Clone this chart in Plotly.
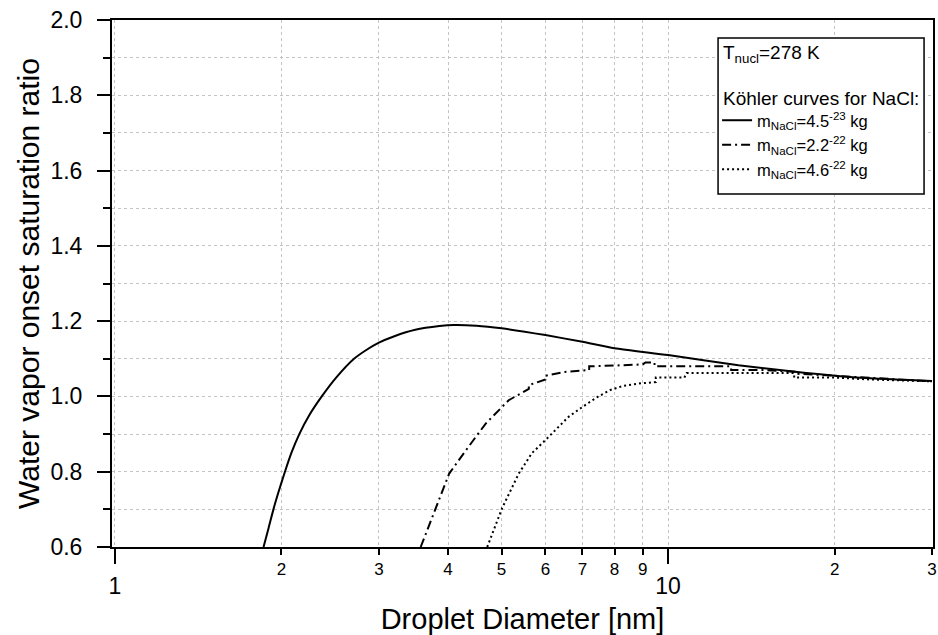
import plotly.graph_objects as go

# ---- data ----
# Köhler curve, m_NaCl = 4.5e-23 kg (solid)
d_a = [1.856, 1.895, 1.934, 1.979, 2.029, 2.084, 2.154, 2.245, 2.365, 2.511, 2.705, 2.851, 3.0,
       3.2, 3.49, 3.86, 4.1, 4.5, 5.0, 6.0, 7.0, 8.0, 10.0, 13.4, 17.6, 23.2, 30.0]
s_a = [0.60, 0.65, 0.70, 0.75, 0.80, 0.85, 0.90, 0.95, 1.00, 1.05, 1.10, 1.124, 1.143,
       1.160, 1.177, 1.187, 1.19, 1.188, 1.181, 1.163, 1.145, 1.128, 1.11, 1.083, 1.063, 1.048, 1.041]

# m_NaCl = 2.2e-22 kg (dash-dot)
d_b = [3.57, 3.81, 4.02, 4.31, 4.68, 5.15, 5.45, 5.6, 5.6, 6.0, 6.0, 6.5, 7.2, 7.2, 8.0, 9.0, 9.1, 9.45, 9.45, 11.0, 13.0, 13.0, 15.0, 17.2, 17.2, 20.0, 23.0, 26.0, 30.0]
s_b = [0.60, 0.707, 0.795, 0.857, 0.928, 0.99, 1.01, 1.02, 1.03, 1.045, 1.055, 1.065, 1.07, 1.08, 1.082, 1.085, 1.09, 1.09, 1.08, 1.08, 1.08, 1.07, 1.07, 1.065, 1.06, 1.055, 1.05, 1.045, 1.04]

# m_NaCl = 4.6e-22 kg (dotted)
d_c = [4.71, 5.01, 5.37, 5.67, 6.0, 6.34, 6.61, 7.0, 7.46, 7.86, 8.3, 8.95, 9.5, 9.5, 10.7, 10.8, 14.0, 16.9, 16.9, 20.0, 23.2, 26.0, 30.0]
s_c = [0.60, 0.703, 0.795, 0.849, 0.884, 0.919, 0.946, 0.972, 0.999, 1.017, 1.028, 1.035, 1.038, 1.05, 1.05, 1.062, 1.062, 1.062, 1.05, 1.05, 1.045, 1.042, 1.04]

names = ["m<sub>NaCl</sub>=4.5<sup>-23</sup> kg",
         "m<sub>NaCl</sub>=2.2<sup>-22</sup> kg",
         "m<sub>NaCl</sub>=4.6<sup>-22</sup> kg"]
legend_header = ["T<sub>nucl</sub>=278 K", "Köhler curves for NaCl:"]

x_major_vals = [1, 10]
x_major_text = ["1", "10"]
x_minor_vals = [2, 3, 4, 5, 6, 7, 8, 9, 20, 30]
x_minor_text = ["2", "3", "4", "5", "6", "7", "8", "9", "2", "3"]
y_tick_vals = [0.6, 0.8, 1.0, 1.2, 1.4, 1.6, 1.8, 2.0]

FONT = "Liberation Sans, Arial, sans-serif"
GRID = "#c4c4c4"

fig = go.Figure()
fig.add_trace(go.Scatter(x=d_a, y=s_a, mode="lines", name=names[0],
                         line=dict(color="black", width=2, shape="spline", smoothing=0.6)))
fig.add_trace(go.Scatter(x=d_b, y=s_b, mode="lines", name=names[1],
                         line=dict(color="black", width=2, dash="9px,4px,2px,4px")))
fig.add_trace(go.Scatter(x=d_c, y=s_c, mode="lines", name=names[2], xaxis="x2",
                         line=dict(color="black", width=2, dash="2px,3px")))

xr = [-0.0054, 1.4789]

# legend box frame (paper coordinates)
fig.add_shape(type="rect", xref="paper", yref="paper",
              x0=0.7382, x1=0.9891, y0=0.6698, y1=0.9658,
              line=dict(color="black", width=1.5), fillcolor="white", layer="above")
fig.add_annotation(text=legend_header[0], xref="paper", yref="paper", x=0.7418, y=0.9355,
                   xanchor="left", yanchor="middle", showarrow=False,
                   font=dict(size=19, family=FONT, color="black"))
fig.add_annotation(text=legend_header[1], xref="paper", yref="paper", x=0.7418, y=0.8501,
                   xanchor="left", yanchor="middle", showarrow=False,
                   font=dict(size=19, family=FONT, color="black"))

fig.update_layout(
    width=938, height=635,
    margin=dict(l=112, r=1, t=20, b=88),
    paper_bgcolor="white", plot_bgcolor="white",
    font=dict(family=FONT, color="black"),
    showlegend=True,
    legend=dict(
        x=0.737, y=0.8425, xanchor="left", yanchor="top",
        bgcolor="rgba(0,0,0,0)", borderwidth=0,
        font=dict(size=16.5, family=FONT),
        itemwidth=30, tracegroupgap=0,
    ),
    xaxis=dict(
        type="log", range=xr,
        tickmode="array", tickvals=x_major_vals, ticktext=x_major_text,
        ticks="outside", ticklen=15, tickwidth=1.5, tickcolor="black",
        tickfont=dict(size=23), ticklabelstandoff=2,
        showline=True, linecolor="black", linewidth=2, mirror=True,
        showgrid=True, gridcolor=GRID, griddash="dot", gridwidth=1,
        zeroline=False,
        title=dict(text="Droplet Diameter [nm]", font=dict(size=29), standoff=11),
    ),
    xaxis2=dict(
        type="log", range=xr, overlaying="x", matches="x", side="bottom",
        tickmode="array", tickvals=x_minor_vals, ticktext=x_minor_text,
        ticks="outside", ticklen=7, tickwidth=1.5, tickcolor="black",
        tickfont=dict(size=17), ticklabeloverflow="allow",
        showline=False, showgrid=True, gridcolor=GRID, griddash="dot", gridwidth=1,
        zeroline=False,
    ),
    yaxis=dict(
        range=[0.6, 2.0],
        tickmode="array", tickvals=y_tick_vals, tickformat=".1f",
        ticks="outside", ticklen=13, tickwidth=1.5, tickcolor="black",
        tickfont=dict(size=23), ticklabelstandoff=10,
        showline=True, linecolor="black", linewidth=2, mirror=True,
        showgrid=True, gridcolor=GRID, griddash="dot", gridwidth=1,
        zeroline=False,
        minor=dict(tick0=0.6, dtick=0.1, ticks="outside", ticklen=7, tickwidth=1.5,
                   tickcolor="black", showgrid=True, gridcolor=GRID, griddash="dot", gridwidth=1),
        title=dict(text="Water vapor onset saturation ratio", font=dict(size=30), standoff=2),
    ),
)

fig.write_html("out.html")
